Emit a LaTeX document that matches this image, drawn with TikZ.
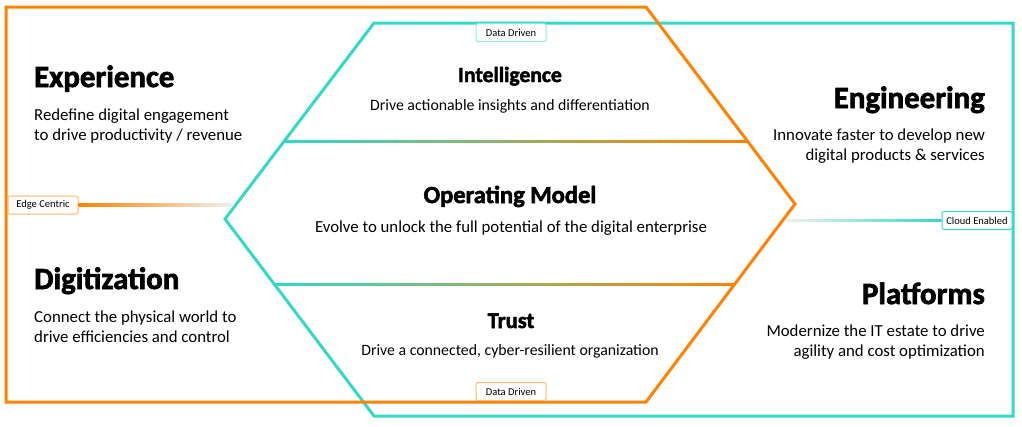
\documentclass[tikz,border=0pt]{standalone}
\usepackage{fontspec}
\setmainfont{Carlito}[BoldFeatures={FakeBold=2.2}]
\usepackage{tikz}

\definecolor{hpeorange}{HTML}{FF8300}
\definecolor{hpeteal}{HTML}{32D9C6}
\definecolor{hpemid}{HTML}{C8C49C}

\tikzset{
  sidetitle/.style={font=\bfseries\fontsize{30.8}{32}\selectfont, inner sep=0pt},
  midtitle/.style={font=\bfseries\fontsize{#1}{26}\selectfont, inner sep=0pt, anchor=base},
  sidebody/.style={font=\fontsize{16.8}{20}\selectfont, inner sep=0pt},
  midbody/.style={font=\fontsize{#1}{18}\selectfont, inner sep=0pt, anchor=base},
  tag/.style={draw, line width=1pt, rounded corners=1.5pt, fill=white,
    font=\fontsize{10.5}{11}\selectfont, inner sep=1pt, minimum width=70pt, minimum height=18pt},
  divider/.style={left color=hpeteal, middle color=hpemid, right color=hpeorange}
}

\begin{document}
\begin{tikzpicture}[x=1pt, y=-1pt]
        \useasboundingbox (0,0) rectangle (1022,426);

        % Teal frame and orange frame
        \draw [hpeteal, line width=3pt] (374,23) -- (1013,23) -- (1013,416) -- (374,416) -- (225,219) -- cycle;
        \draw [hpeorange, line width=3pt] (6,7) -- (646,7) -- (795,204) -- (646,402) -- (6,402) -- cycle;

        % Dividers of the middle hexagon
        \shade [divider] (285,140) rectangle (747,142.2);
        \shade [divider] (275,283) rectangle (735,285.2);

        % Tags and their lines
        \node [tag, draw=hpeorange!60] (edge) at (43,205) {Edge Centric};
        \shade [left color=hpeorange, right color=gray!12] ([yshift=1.2pt]edge.east) rectangle (233,206.2);
        \node [tag, draw=hpeteal] (cloud) at (977,220.5) {Cloud Enabled};
        \shade [left color=gray!12, right color=hpeteal] (787,219.8) rectangle ([yshift=-1.2pt]cloud.west);
        \node [tag, draw=hpeteal!55] (datatop) at (511,32.5) {Data Driven};
        \node [tag, draw=hpeorange!55] (databot) at (511,391.5) {Data Driven};

        % Left side
        \node [sidetitle, anchor=base west] (exp) at (34,87) {Experience};
        \node [sidebody, anchor=base west, align=left] (expt) at (34,140) {Redefine digital engagement\\to drive productivity / revenue};
        \node [sidetitle, anchor=base west] (dig) at (34,289) {Digitization};
        \node [sidebody, anchor=base west, align=left] (digt) at (34,342) {Connect the physical world to\\drive efficiencies and control};

        % Right side
        \node [sidetitle, anchor=base east] (eng) at (985,108) {Engineering};
        \node [sidebody, anchor=base east, align=right] (engt) at (985,160) {Innovate faster to develop new\\digital products \& services};
        \node [sidetitle, anchor=base east] (plat) at (985,304) {Platforms};
        \node [sidebody, anchor=base east, align=right] (platt) at (985,356) {Modernize the IT estate to drive\\agility and cost optimization};

        % Middle
        \node [midtitle=21.6] (intel) at (510,82) {Intelligence};
        \node [midbody=15.8] (intelt) at (510,110) {Drive actionable insights and differentiation};
        \node [midtitle=24.5] (opm) at (510,203) {Operating Model};
        \node [midbody=16.8] (opmt) at (511,232) {Evolve to unlock the full potential of the digital enterprise};
        \node [midtitle=22.5] (trust) at (511,328) {Trust};
        \node [midbody=15.8] (trustt) at (510,355) {Drive a connected, cyber-resilient organization};
\end{tikzpicture}
\end{document}
